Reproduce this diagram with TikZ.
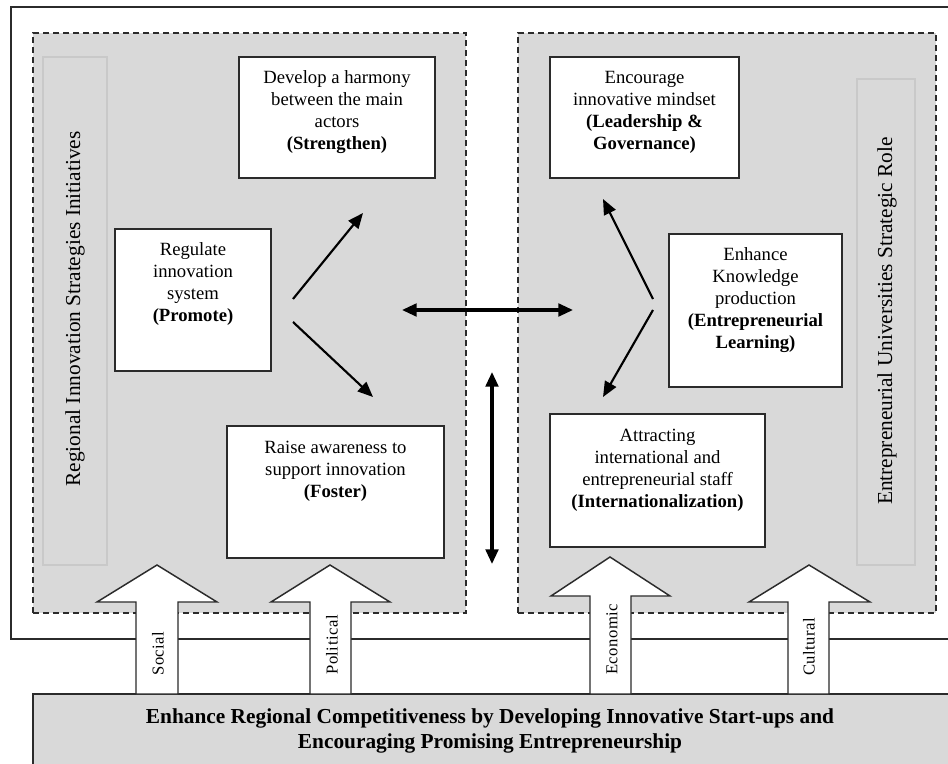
\documentclass[tikz,border=0pt]{standalone}
\usepackage{fontspec}
\setmainfont{Liberation Serif}
\usetikzlibrary{arrows.meta,fit}
\definecolor{panelgray}{HTML}{D9D9D9}
\definecolor{stripedge}{HTML}{C9C9C9}
\definecolor{ink}{HTML}{2B2B2B}
\tikzset{
  frame/.style={draw=ink, line width=1.1pt, inner sep=0pt},
  panel/.style={draw=ink, dash pattern=on 4.5pt off 3pt, line width=1pt, fill=panelgray, inner sep=0pt},
  strip/.style={draw=stripedge, line width=1pt, fill=panelgray, inner sep=0pt},
  card/.style={draw=ink, line width=1.1pt, fill=white, inner sep=0pt},
  cardtext/.style={align=center, font=\fontsize{14}{16.5}\selectfont, inner sep=0pt},
  sidetitle/.style={rotate=90, font=\fontsize{16}{19}\selectfont, inner sep=0pt},
  flow/.style={line width=1.6pt, -{Triangle[length=11.5pt,width=9.5pt]}},
  link/.style={line width=2.3pt, {Triangle[length=11pt,width=9.5pt]}-{Triangle[length=11pt,width=9.5pt]}},
  pillar/.style={draw=ink, line width=1.1pt, fill=white, line join=miter},
  pillartext/.style={rotate=90, anchor=west, inner sep=0pt,
    font=\fontsize{12.5}{14}\selectfont\addfontfeatures{LetterSpace=3}},
  basebox/.style={draw=ink, line width=1.1pt, fill=panelgray, inner sep=0pt},
  basetext/.style={align=center, inner sep=0pt, font=\fontsize{16}{18.75}\selectfont\bfseries},
}
\begin{document}
\begin{tikzpicture}[x=0.75pt,y=-0.75pt]
  \clip (0,0) rectangle (948,763);
  \fill[white] (0,0) rectangle (948,763);

  % outer frame and the two dashed panels
  \node[frame, fit={(11,7) (990,639)}] (outer) {};
  \node[panel, fit={(33,33) (466,613)}] (leftpanel) {};
  \node[panel, fit={(518,33) (936,613)}] (rightpanel) {};

  % side strips with their titles
  \node[strip, fit={(43,57) (107,565)}] (leftstrip) {};
  \node[sidetitle] (lefttitle) at (75,309) {Regional Innovation Strategies Initiatives};
  \node[strip, fit={(857,79) (915,565)}] (rightstrip) {};
  \node[sidetitle] (righttitle) at (887,321) {Entrepreneurial Universities Strategic Role};

  % regional initiatives
  \node[card, fit={(239,57) (435,178)}] (strengthen) {};
  \node[cardtext] (strengthen-t) at (337,112) {Develop a harmony\\between the main\\actors\\\textbf{(Strengthen)}};
  \node[card, fit={(115,229) (271,371)}] (promote) {};
  \node[cardtext] (promote-t) at (193,284) {Regulate\\innovation\\system\\\textbf{(Promote)}};
  \node[card, fit={(227,426) (444,558)}] (foster) {};
  \node[cardtext] (foster-t) at (335.5,471) {Raise awareness to\\support innovation\\\textbf{(Foster)}};

  % university roles
  \node[card, fit={(550,57) (739,178)}] (leadership) {};
  \node[cardtext] (leadership-t) at (644.5,112) {Encourage\\innovative mindset\\\textbf{(Leadership \&}\\\textbf{Governance)}};
  \node[card, fit={(669,234) (842,387)}] (knowledge) {};
  \node[cardtext] (knowledge-t) at (755.5,300) {Enhance\\Knowledge\\production\\\textbf{(Entrepreneurial}\\\textbf{Learning)}};
  \node[card, fit={(550,414) (765,547)}] (intl) {};
  \node[cardtext] (intl-t) at (657.5,470) {Attracting\\international and\\entrepreneurial staff\\\textbf{(Internationalization)}};

  % arrow end points
  \coordinate (pa1) at (293,299);
  \coordinate (pa2) at (363,213);
  \coordinate (pb1) at (293,322);
  \coordinate (pb2) at (373,397);
  \coordinate (ka1) at (653,299);
  \coordinate (ka2) at (603,199);
  \coordinate (kb1) at (653,310);
  \coordinate (kb2) at (603,397);
  \coordinate (h1) at (402,310);
  \coordinate (h2) at (573,310);
  \coordinate (v1) at (492,372);
  \coordinate (v2) at (492,564);

  \draw[flow] (pa1) -- (pa2);
  \draw[flow] (pb1) -- (pb2);
  \draw[flow] (ka1) -- (ka2);
  \draw[flow] (kb1) -- (kb2);
  \draw[link] (h1) -- (h2);
  \draw[link] (v1) -- (v2);

  % base box
  \node[basebox, fit={(33,694) (990,800)}] (base) {};
  \node[basetext] (base-t) at (490,731) {Enhance Regional Competitiveness by Developing Innovative Start-ups and\\Encouraging Promising Entrepreneurship};

  % block arrows rising from the base
  \draw[pillar] (136,694) -- (136,602) -- (97,602) -- (157,565) -- (217,602) -- (178,602) -- (178,694) -- cycle;
  \draw[pillar] (310,694) -- (310,602) -- (271,602) -- (330,565) -- (390,602) -- (351,602) -- (351,694) -- cycle;
  \draw[pillar] (590,694) -- (590,596) -- (551,596) -- (610,557) -- (670,596) -- (631,596) -- (631,694) -- cycle;
  \draw[pillar] (788,694) -- (788,602) -- (749,602) -- (809,565) -- (870,602) -- (829,602) -- (829,694) -- cycle;
  \node[pillartext] (social) at (158,676) {Social};
  \node[pillartext] (political) at (332,675) {Political};
  \node[pillartext] (economic) at (612,675) {Economic};
  \node[pillartext] (cultural) at (809,676) {Cultural};
\end{tikzpicture}
\end{document}
